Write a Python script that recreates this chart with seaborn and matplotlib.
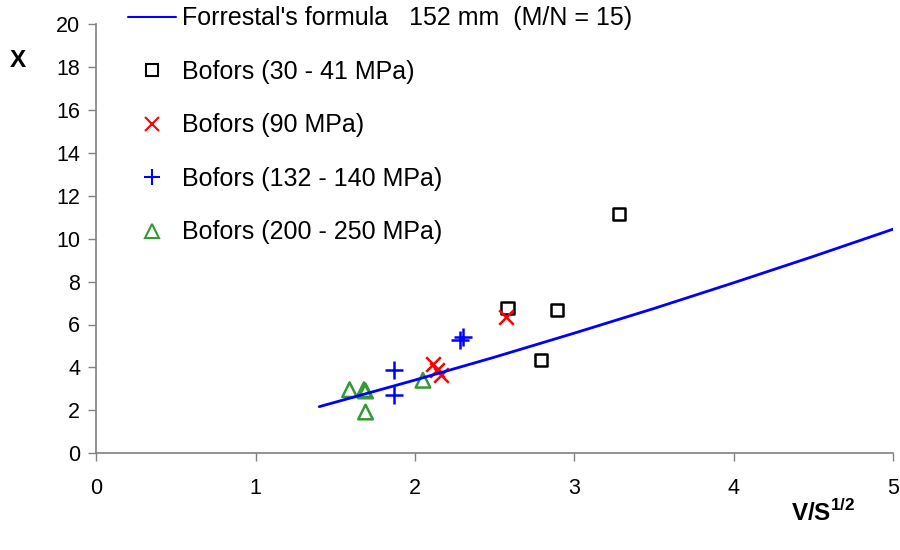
import matplotlib
matplotlib.use("Agg")
import matplotlib.pyplot as plt
import seaborn as sns
from matplotlib.lines import Line2D

# Forrestal's formula curve (152 mm, M/N = 15)
formula_x = [1.4, 2.0, 2.5, 3.0, 3.5, 4.0, 4.5, 5.0]
formula_y = [2.17, 3.41, 4.48, 5.6, 6.75, 7.95, 9.18, 10.45]

# Bofors test results, grouped by concrete strength
b30_x = [2.58, 2.89, 2.79, 3.28]
b30_y = [6.75, 6.68, 4.36, 11.17]

b90_x = [2.57, 2.11, 2.14, 2.16]
b90_y = [6.37, 4.14, 3.86, 3.66]

b132_x = [1.87, 1.87, 2.28, 2.30]
b132_y = [3.86, 2.73, 5.30, 5.41]

b200_x = [1.59, 1.68, 1.69, 1.69, 2.05]
b200_y = [2.96, 2.96, 2.90, 1.92, 3.40]

labels = [
    "Forrestal's formula   152 mm  (M/N = 15)",
    "Bofors (30 - 41 MPa)",
    "Bofors (90 MPa)",
    "Bofors (132 - 140 MPa)",
    "Bofors (200 - 250 MPa)",
]
x_ticks = [0, 1, 2, 3, 4, 5]
y_ticks = [0, 2, 4, 6, 8, 10, 12, 14, 16, 18, 20]

sns.set_style("white")
plt.rcParams["font.family"] = ["Liberation Sans", "DejaVu Sans"]
plt.rcParams["mathtext.fontset"] = "custom"
plt.rcParams["mathtext.rm"] = "Liberation Sans"
plt.rcParams["mathtext.bf"] = "Liberation Sans:bold"
plt.rcParams["text.color"] = "black"

fig = plt.figure(figsize=(9, 5.5), dpi=100)
ax = fig.add_axes([0.1067, 0.176, 0.886, 0.78])

GREEN = "#339933"

sns.lineplot(x=formula_x, y=formula_y, ax=ax, color="#0000ff", linewidth=2.0,
             estimator=None, sort=False)
sns.scatterplot(x=b30_x, y=b30_y, ax=ax, marker="s", s=75, facecolors="none",
                edgecolor="black", linewidth=1.8)
sns.scatterplot(x=b90_x, y=b90_y, ax=ax, marker="x", s=110, color="#ff0000",
                linewidth=1.8)
sns.scatterplot(x=b132_x, y=b132_y, ax=ax, marker="+", s=150, color="#0000ff",
                linewidth=1.8)
sns.scatterplot(x=b200_x, y=b200_y, ax=ax, marker="^", s=110, facecolors="none",
                edgecolor=GREEN, linewidth=1.8)

ax.set_xlim(0, 5)
ax.set_ylim(0, 20)
ax.set_xticks(x_ticks)
ax.set_yticks(y_ticks)
ax.tick_params(axis="both", which="major", labelsize=15.5, direction="out",
               length=5.5, width=1, color="#808080", left=True, bottom=True,
               labelcolor="black")
ax.tick_params(axis="y", pad=6)
ax.tick_params(axis="x", pad=12)

for side in ["top", "right"]:
    ax.spines[side].set_visible(False)
for side in ["left", "bottom"]:
    ax.spines[side].set_color("#808080")
    ax.spines[side].set_linewidth(1.2)

ax.set_xlabel("")
ax.set_ylabel("")
fig.text(0.915, 0.068, r"V/S$^{\mathbf{1/2}}$", fontsize=17.5, fontweight="bold",
         ha="center", va="center")
fig.text(0.02, 0.89, "X", fontsize=17.5, fontweight="bold", ha="center",
         va="center")

handles = [
    Line2D([], [], color="#0000ff", linewidth=1.5),
    Line2D([], [], linestyle="none", marker="s", markersize=8.5,
           markerfacecolor="none", markeredgecolor="black", markeredgewidth=1.5),
    Line2D([], [], linestyle="none", marker="x", markersize=10,
           color="#ff0000", markeredgewidth=1.5),
    Line2D([], [], linestyle="none", marker="+", markersize=11,
           color="#0000ff", markeredgewidth=1.5),
    Line2D([], [], linestyle="none", marker="^", markersize=9.5,
           markerfacecolor="none", markeredgecolor=GREEN, markeredgewidth=1.5),
]
ax.legend(handles, labels, loc="upper left", bbox_to_anchor=(0.0276, 1.065),
          frameon=False, fontsize=18, handlelength=1.92, handletextpad=0.24,
          labelspacing=1.18, borderaxespad=0)

fig.savefig("out.png", dpi=100, facecolor="white")
